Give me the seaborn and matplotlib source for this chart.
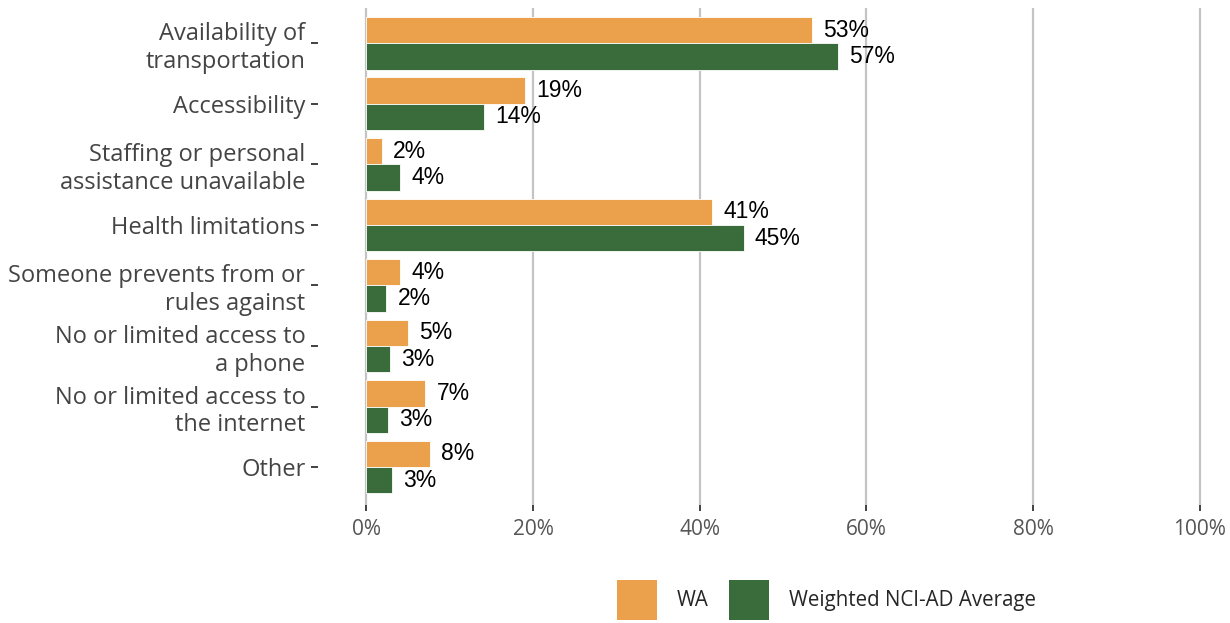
import pandas as pd
import matplotlib.pyplot as plt
import seaborn as sns
from matplotlib.patches import Patch

# Data
categories = [
    "Availability of\ntransportation",
    "Accessibility",
    "Staffing or personal\nassistance unavailable",
    "Health limitations",
    "Someone prevents from or\nrules against",
    "No or limited access to\na phone",
    "No or limited access to\nthe internet",
    "Other",
]
wa_values = [53.5, 19.1, 1.9, 41.5, 4.1, 5.0, 7.1, 7.6]
nci_values = [56.6, 14.1, 4.1, 45.3, 2.4, 2.9, 2.6, 3.1]
wa_labels = ["53%", "19%", "2%", "41%", "4%", "5%", "7%", "8%"]
nci_labels = ["57%", "14%", "4%", "45%", "2%", "3%", "3%", "3%"]
series = ["WA", "Weighted NCI-AD Average"]
colors = ["#EBA04C", "#3A6B3A"]
x_ticks = [0, 20, 40, 60, 80, 100]

df = pd.DataFrame({
    "Category": categories * 2,
    "Value": wa_values + nci_values,
    "Group": [series[0]] * len(categories) + [series[1]] * len(categories),
})

sns.set_theme(style="white")
plt.rcParams["font.family"] = ["Open Sans", "DejaVu Sans"]

fig = plt.figure(figsize=(12.3, 6.23), dpi=100)
ax = fig.add_axes([0.2585, 0.19, 0.7305, 0.797])

sns.barplot(data=df, x="Value", y="Category", hue="Group", order=categories,
            hue_order=series, palette=colors, orient="h", width=0.87,
            saturation=1, legend=False, linewidth=0.6, edgecolor="white", ax=ax)

for cont, labs in zip(ax.containers, [wa_labels, nci_labels]):
    ax.bar_label(cont, labels=labs, padding=8, fontsize=16.5,
                 family="Liberation Sans", color="black")

ax.set_xlim(-5.8, 102)
ax.set_ylim(7.62, -0.58)
ax.set_xticks(x_ticks)
ax.set_xticklabels([f"{t}%" for t in x_ticks], fontsize=15, color="#555555")
ax.tick_params(axis="y", labelsize=17, labelcolor="#444444", length=5,
               width=1.3, color="#333333", pad=4, left=True)
ax.tick_params(axis="x", length=4, width=1.3, color="#333333", bottom=True, pad=6)
ax.grid(axis="x", color="#C4C4C4", linewidth=1.6)
ax.set_axisbelow(True)
for s in ax.spines.values():
    s.set_visible(False)
ax.set_xlabel("")
ax.set_ylabel("")

handles = [Patch(facecolor=c, edgecolor="none", label=s) for c, s in zip(colors, series)]
fig.legend(handles=handles, loc="center", bbox_to_anchor=(0.672, 0.037), ncol=2,
           frameon=False, fontsize=14.8, handlelength=1.95, handleheight=2.65,
           handletextpad=0.95, columnspacing=1.0)

fig.savefig("out.png", dpi=100)
